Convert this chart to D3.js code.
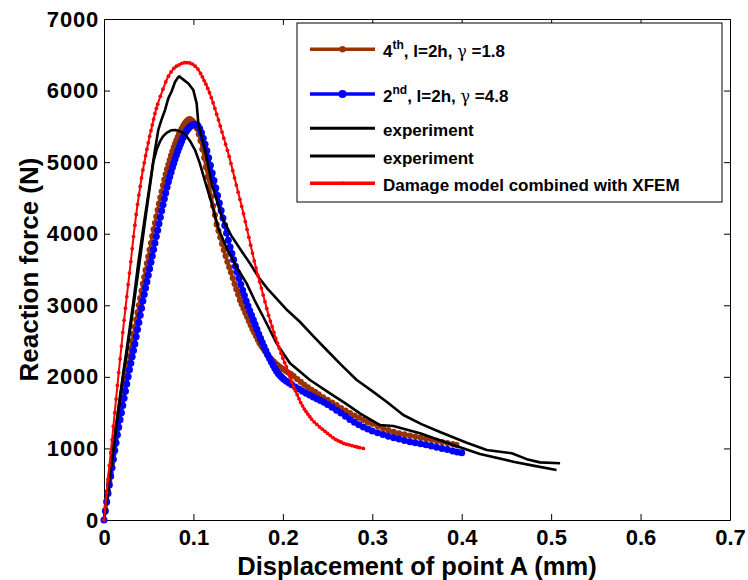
<!DOCTYPE html>
<html>
<head>
<meta charset="utf-8">
<script src="https://cdn.jsdelivr.net/npm/d3@7"></script>
<style>
  body { margin: 0; background: #fff; }
  svg { display: block; }
  text { font-family: "Liberation Sans", Arial, Helvetica, sans-serif; font-weight: bold; }
</style>
</head>
<body>
<svg id="chart" width="748" height="580"></svg>
<script>
// Axis ticks
const xTicks = [0, 0.1, 0.2, 0.3, 0.4, 0.5, 0.6, 0.7];
const xTickLabels = ["0", "0.1", "0.2", "0.3", "0.4", "0.5", "0.6", "0.7"];
const yTicks = [0, 1000, 2000, 3000, 4000, 5000, 6000, 7000];
const yTickLabels = ["0", "1000", "2000", "3000", "4000", "5000", "6000", "7000"];

// 4th order, l=2h, gamma=1.8  [displacement (mm), force (N)]
const fourthOrder = [
  [0,0],[0.0015,135],[0.003,270],[0.0045,400],[0.006,530],[0.0075,660],[0.009,790],[0.0105,915],
  [0.012,1040],[0.0135,1160],[0.015,1280],[0.0165,1400],[0.018,1515],[0.0195,1630],[0.021,1745],
  [0.0225,1855],[0.024,1965],[0.0255,2075],[0.027,2185],[0.0285,2290],[0.03,2395],[0.0315,2500],
  [0.033,2600],[0.0345,2700],[0.036,2800],[0.0375,2900],[0.039,3000],[0.0405,3100],[0.042,3200],
  [0.0435,3300],[0.045,3395],[0.0465,3490],[0.048,3585],[0.0495,3680],[0.051,3775],[0.0525,3870],
  [0.054,3965],[0.0555,4060],[0.057,4150],[0.0585,4240],[0.06,4330],[0.0615,4420],[0.063,4505],
  [0.0645,4590],[0.066,4675],[0.0675,4755],[0.069,4830],[0.0705,4900],[0.072,4965],[0.0735,5030],
  [0.075,5090],[0.0765,5150],[0.078,5205],[0.0795,5255],[0.081,5305],[0.0825,5350],[0.084,5395],
  [0.0855,5435],[0.087,5470],[0.0885,5505],[0.09,5535],[0.0915,5560],[0.093,5580],[0.0945,5595],
  [0.096,5600],[0.098,5585],[0.1,5560],[0.102,5530],[0.104,5470],[0.106,5390],[0.108,5300],
  [0.11,5180],[0.112,5060],[0.114,4930],[0.116,4795],[0.118,4660],[0.12,4520],[0.122,4390],
  [0.124,4260],[0.126,4130],[0.128,4040],[0.13,3950],[0.132,3860],[0.134,3772],[0.136,3690],
  [0.138,3610],[0.14,3535],[0.142,3460],[0.144,3380],[0.146,3300],[0.148,3225],[0.15,3150],
  [0.152,3074],[0.154,3015],[0.156,2955],[0.158,2895],[0.16,2840],[0.162,2780],[0.164,2725],
  [0.166,2670],[0.168,2620],[0.17,2570],[0.172,2520],[0.174,2468],[0.176,2430],[0.178,2395],
  [0.18,2360],[0.182,2325],[0.184,2290],[0.186,2260],[0.188,2235],[0.19,2210],[0.192,2185],
  [0.194,2165],[0.196,2145],[0.198,2125],[0.2,2110],[0.203,2085],[0.206,2060],[0.209,2040],
  [0.212,2010],[0.216,1970],[0.22,1930],[0.224,1890],[0.228,1855],[0.232,1820],[0.236,1790],
  [0.24,1755],[0.245,1715],[0.25,1680],[0.255,1640],[0.26,1605],[0.265,1565],[0.27,1530],
  [0.275,1495],[0.28,1460],[0.285,1430],[0.29,1400],[0.295,1370],[0.3,1345],[0.306,1315],
  [0.312,1285],[0.318,1255],[0.324,1230],[0.33,1210],[0.336,1195],[0.342,1180],[0.348,1165],
  [0.354,1150],[0.36,1135],[0.366,1120],[0.372,1105],[0.378,1090],[0.384,1075],[0.39,1060],
  [0.394,1050]
];

// 2nd order, l=2h, gamma=4.8
const secondOrder = [
  [0,0],[0.0015,125],[0.003,250],[0.0045,370],[0.006,490],[0.0075,610],[0.009,730],[0.0105,850],
  [0.012,970],[0.0135,1080],[0.015,1190],[0.0165,1295],[0.018,1400],[0.0195,1500],[0.021,1600],
  [0.0225,1700],[0.024,1800],[0.0255,1900],[0.027,2000],[0.0285,2100],[0.03,2190],[0.0315,2280],
  [0.033,2370],[0.0345,2460],[0.036,2560],[0.0375,2660],[0.039,2760],[0.0405,2860],[0.042,2960],
  [0.0435,3060],[0.045,3150],[0.0465,3240],[0.048,3330],[0.0495,3420],[0.051,3510],[0.0525,3600],
  [0.054,3690],[0.0555,3780],[0.057,3870],[0.0585,3960],[0.06,4050],[0.0615,4140],[0.063,4230],
  [0.0645,4320],[0.066,4405],[0.0675,4490],[0.069,4570],[0.0705,4650],[0.072,4725],[0.0735,4795],
  [0.075,4860],[0.0765,4925],[0.078,4985],[0.0795,5045],[0.081,5100],[0.0825,5155],[0.084,5205],
  [0.0855,5255],[0.087,5300],[0.0885,5345],[0.09,5385],[0.0915,5420],[0.093,5450],[0.0945,5475],
  [0.096,5495],[0.0975,5510],[0.099,5520],[0.1005,5525],[0.102,5525],[0.1035,5520],[0.105,5510],
  [0.107,5470],[0.109,5410],[0.111,5335],[0.113,5250],[0.115,5160],[0.117,5060],[0.119,4955],
  [0.121,4850],[0.123,4745],[0.125,4640],[0.127,4535],[0.129,4430],[0.131,4325],[0.133,4220],
  [0.135,4115],[0.137,4010],[0.139,3910],[0.141,3815],[0.143,3725],[0.145,3635],[0.147,3545],
  [0.149,3460],[0.151,3375],[0.153,3290],[0.155,3210],[0.157,3135],[0.159,3060],[0.161,2990],
  [0.163,2925],[0.165,2860],[0.167,2795],[0.169,2730],[0.171,2665],[0.173,2600],[0.175,2540],
  [0.177,2480],[0.179,2420],[0.181,2365],[0.183,2310],[0.185,2260],[0.187,2210],[0.189,2165],
  [0.191,2120],[0.193,2080],[0.195,2045],[0.197,2015],[0.199,1990],[0.201,1965],[0.204,1940],
  [0.207,1915],[0.21,1890],[0.214,1860],[0.218,1830],[0.222,1800],[0.226,1770],[0.23,1745],
  [0.234,1720],[0.238,1695],[0.242,1670],[0.246,1645],[0.25,1615],[0.255,1575],[0.26,1535],
  [0.265,1495],[0.27,1450],[0.275,1405],[0.28,1365],[0.285,1330],[0.29,1300],[0.295,1270],
  [0.3,1245],[0.306,1220],[0.312,1195],[0.318,1170],[0.324,1150],[0.33,1130],[0.336,1110],
  [0.342,1095],[0.348,1080],[0.354,1065],[0.36,1050],[0.366,1035],[0.372,1015],[0.378,1000],
  [0.384,985],[0.39,965],[0.395,950],[0.4,940]
];

// Experimental curves
const experimentA = [
  [0,0],[0.005,480],[0.0104,1000],[0.016,1560],[0.022,2096],[0.0272,2540],[0.0328,3040],
  [0.0384,3600],[0.0458,4237],[0.0514,4704],[0.057,5169],[0.0607,5450],[0.0645,5600],
  [0.0682,5727],[0.0719,5891],[0.0757,5990],[0.0794,6120],[0.0825,6180],[0.0842,6200],
  [0.087,6170],[0.0943,6100],[0.0999,6007],[0.1036,5821],[0.1055,5542],[0.113,5169],
  [0.1204,4704],[0.1316,4237],[0.142,3980],[0.153,3772],[0.1635,3580],[0.1735,3380],
  [0.183,3230],[0.194,3080],[0.205,2930],[0.219,2770],[0.234,2570],[0.249,2375],[0.265,2170],
  [0.2826,1956],[0.3,1800],[0.316,1653],[0.3347,1467],[0.355,1340],[0.3757,1230],[0.4056,1080],
  [0.428,978],[0.445,950],[0.456,932],[0.4727,850],[0.4875,805],[0.51,792]
];
const experimentB = [
  [0,0],[0.005,460],[0.0105,990],[0.016,1520],[0.022,2060],[0.0275,2500],[0.033,2990],
  [0.039,3530],[0.0465,4230],[0.052,4720],[0.0551,5000],[0.059,5180],[0.0626,5290],
  [0.066,5360],[0.07,5410],[0.075,5445],[0.08,5450],[0.085,5430],[0.0906,5390],[0.096,5300],
  [0.1018,5169],[0.107,4990],[0.113,4730],[0.1204,4424],[0.128,4070],[0.138,3772],[0.15,3500],
  [0.1595,3306],[0.168,3080],[0.178,2840],[0.1837,2700],[0.193,2468],[0.208,2189],[0.2303,1956],
  [0.2527,1770],[0.27,1630],[0.2862,1490],[0.3086,1327],[0.3235,1313],[0.3533,1211],
  [0.3906,1048],[0.4204,922],[0.4577,815],[0.48,760],[0.506,699]
];

// Damage model combined with XFEM
const damageXfem = [
  [0,0],[0.0015,190],[0.003,380],[0.0045,570],[0.006,760],[0.0075,940],[0.009,1120],[0.0105,1310],
  [0.012,1500],[0.0135,1690],[0.015,1880],[0.0165,2060],[0.018,2250],[0.0195,2430],[0.021,2620],
  [0.0225,2790],[0.024,2960],[0.0255,3120],[0.027,3290],[0.0285,3450],[0.03,3610],[0.0315,3790],
  [0.033,3960],[0.0345,4120],[0.036,4270],[0.0375,4410],[0.039,4540],[0.0405,4660],[0.042,4780],
  [0.0435,4890],[0.045,4990],[0.0465,5090],[0.048,5180],[0.0495,5270],[0.051,5360],[0.0525,5440],
  [0.054,5520],[0.0555,5600],[0.057,5680],[0.0585,5750],[0.06,5810],[0.063,5920],[0.066,6020],
  [0.069,6120],[0.072,6200],[0.075,6260],[0.078,6310],[0.081,6340],[0.084,6360],[0.087,6380],
  [0.09,6390],[0.093,6390],[0.096,6385],[0.099,6370],[0.102,6340],[0.105,6300],[0.108,6240],
  [0.11,6190],[0.112,6140],[0.114,6090],[0.116,6030],[0.118,5970],[0.12,5900],[0.122,5830],
  [0.124,5750],[0.126,5670],[0.128,5590],[0.13,5505],[0.132,5420],[0.134,5335],[0.136,5250],
  [0.138,5165],[0.14,5080],[0.142,4980],[0.144,4880],[0.146,4780],[0.148,4680],[0.15,4580],
  [0.152,4480],[0.154,4380],[0.156,4280],[0.158,4170],[0.16,4060],[0.162,3950],[0.164,3840],
  [0.166,3730],[0.168,3620],[0.17,3520],[0.172,3420],[0.174,3330],[0.176,3240],[0.178,3145],
  [0.18,3050],[0.182,2955],[0.184,2860],[0.186,2780],[0.188,2700],[0.19,2620],[0.192,2540],
  [0.194,2470],[0.196,2400],[0.198,2330],[0.2,2260],[0.202,2200],[0.204,2140],[0.206,2070],
  [0.208,2000],[0.21,1930],[0.212,1860],[0.214,1805],[0.216,1750],[0.218,1695],[0.22,1640],
  [0.222,1595],[0.224,1550],[0.226,1515],[0.228,1480],[0.23,1445],[0.232,1410],[0.235,1370],
  [0.238,1335],[0.241,1300],[0.244,1270],[0.247,1240],[0.25,1210],[0.253,1180],[0.256,1150],
  [0.259,1125],[0.262,1105],[0.265,1090],[0.268,1070],[0.271,1060],[0.274,1050],[0.277,1040],
  [0.28,1030],[0.283,1020],[0.286,1010],[0.29,1000]
];

// Series styles, in drawing order
const series = [
  { data: fourthOrder, color: "#993300", width: 3, r: 3.1 },
  { data: secondOrder, color: "#0000ff", width: 3, r: 3.5 },
  { data: experimentA, color: "#000000", width: 2.6, r: 0 },
  { data: experimentB, color: "#000000", width: 2.6, r: 0 },
  { data: damageXfem, color: "#ff0000", width: 2, r: 1.9 }
];

const svg = d3.select("#chart");
const x = d3.scaleLinear().domain([0, 0.7]).range([104, 730]);
const y = d3.scaleLinear().domain([0, 7000]).range([520, 19]);

const tickFont = 22;

function styleAxis(g) {
  g.attr("font-size", tickFont).attr("font-family", null);
  g.selectAll(".domain").attr("stroke", "#000").attr("stroke-width", 1);
  g.selectAll(".tick line").attr("stroke", "#000").attr("stroke-width", 1);
  g.selectAll(".tick text").attr("fill", "#000");
}

svg.append("g")
  .attr("transform", `translate(0,${y(0)})`)
  .call(d3.axisBottom(x).tickValues(xTicks).tickFormat((d, i) => xTickLabels[i])
    .tickSizeInner(-6).tickSizeOuter(0).tickPadding(9.5))
  .call(styleAxis);

svg.append("g")
  .attr("transform", `translate(${x(0)},0)`)
  .call(d3.axisLeft(y).tickValues(yTicks).tickFormat((d, i) => yTickLabels[i])
    .tickSizeInner(-6).tickSizeOuter(0).tickPadding(5))
  .call(styleAxis)
  .selectAll(".tick text").attr("letter-spacing", 0.8);

svg.append("g")
  .attr("transform", `translate(0,${y(7000)})`)
  .call(d3.axisTop(x).tickValues(xTicks).tickFormat("").tickSizeInner(-6).tickSizeOuter(0))
  .call(styleAxis);

svg.append("g")
  .attr("transform", `translate(${x(0.7)},0)`)
  .call(d3.axisRight(y).tickValues(yTicks).tickFormat("").tickSizeInner(-6).tickSizeOuter(0))
  .call(styleAxis);

// Curves
const line = d3.line().x(d => x(d[0])).y(d => y(d[1]));
series.forEach(s => {
  svg.append("path")
    .datum(s.data)
    .attr("fill", "none")
    .attr("stroke", s.color)
    .attr("stroke-width", s.width)
    .attr("stroke-linejoin", "round")
    .attr("d", line);
  if (s.r > 0) {
    svg.append("g").selectAll("circle")
      .data(s.data)
      .join("circle")
      .attr("cx", d => x(d[0]))
      .attr("cy", d => y(d[1]))
      .attr("r", s.r)
      .attr("fill", s.color);
  }
});

// Axis titles
svg.append("text")
  .attr("x", (x(0) + x(0.7)) / 2)
  .attr("y", 574.5)
  .attr("text-anchor", "middle")
  .attr("font-size", 25.5)
  .text("Displacement of point A (mm)");

svg.append("text")
  .attr("transform", `translate(38,${(y(0) + y(7000)) / 2}) rotate(-90)`)
  .attr("text-anchor", "middle")
  .attr("font-size", 26)
  .text("Reaction force (N)");

// Legend
const legend = svg.append("g");
legend.append("rect")
  .attr("x", 297).attr("y", 23).attr("width", 425).attr("height", 179)
  .attr("fill", "#fff").attr("stroke", "#000").attr("stroke-width", 1);

const legendRows = [49.3, 94, 128.3, 156, 183.3];
const legendItems = [
  { s: series[0], label: ["4", "th", ", l=2h, ", "\u03b3", " =1.8"], r: 3.2 },
  { s: series[1], label: ["2", "nd", ", l=2h, ", "\u03b3", " =4.8"], r: 4.1 },
  { s: series[2], label: ["experiment"], r: 0 },
  { s: series[3], label: ["experiment"], r: 0 },
  { s: series[4], label: ["Damage model combined with XFEM"], r: 1.9 }
];

legendItems.forEach((item, i) => {
  const ly = legendRows[i];
  legend.append("line")
    .attr("x1", 310).attr("x2", 375).attr("y1", ly).attr("y2", ly)
    .attr("stroke", item.s.color).attr("stroke-width", item.s.color === "#000000" ? 3 : 3.5);
  if (item.r > 0) {
    legend.append("circle").attr("cx", 342.5).attr("cy", ly).attr("r", item.r).attr("fill", item.s.color);
  }
  const t = legend.append("text").attr("x", 383).attr("y", ly + 8).attr("font-size", 17).attr("fill", "#000");
  if (item.label.length === 1) {
    t.text(item.label[0]);
  } else {
    t.append("tspan").text(item.label[0]);
    t.append("tspan").attr("dy", -8).attr("font-size", 12).text(item.label[1]);
    t.append("tspan").attr("dy", 8).text(item.label[2]);
    t.append("tspan").attr("font-weight", "normal").attr("font-family", "'DejaVu Serif', serif").attr("font-size", 16).text(item.label[3]);
    t.append("tspan").text(item.label[4]);
  }
});
</script>
</body>
</html>
